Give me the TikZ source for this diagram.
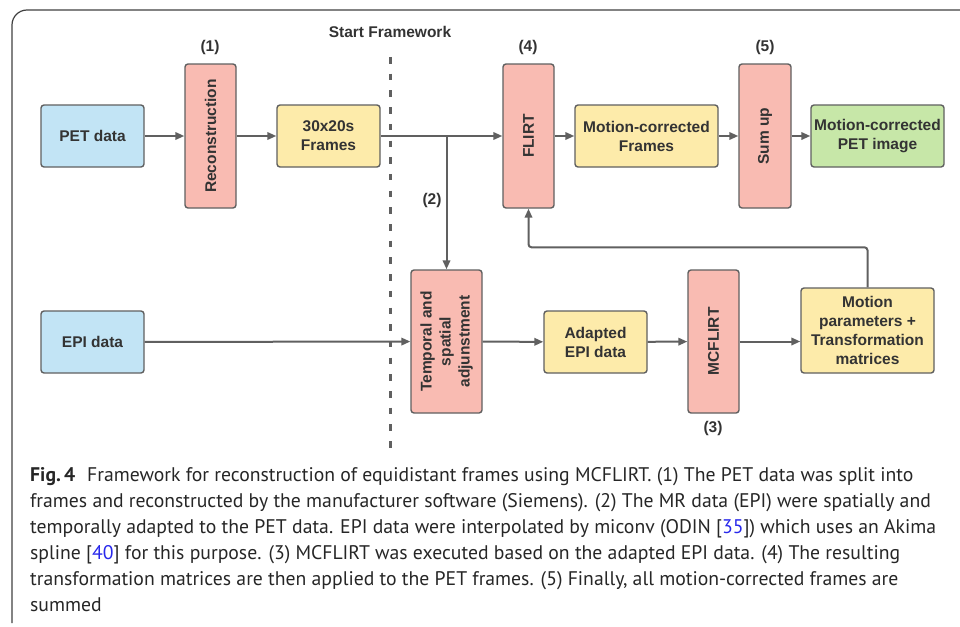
\documentclass[tikz,border=0pt]{standalone}
\usepackage{fontspec}
\setmainfont{PT Sans}
\setsansfont{Liberation Sans}
\usepackage{tikz}
\usetikzlibrary{arrows.meta}

\definecolor{inblue}{RGB}{194,228,245}
\definecolor{steppink}{RGB}{249,187,178}
\definecolor{datayellow}{RGB}{253,235,170}
\definecolor{outgreen}{RGB}{199,231,168}
\definecolor{linegray}{RGB}{96,96,96}
\definecolor{textgray}{RGB}{51,51,51}
\definecolor{citeblue}{RGB}{40,40,235}

\begin{document}
\begin{tikzpicture}[x=1pt,y=-1pt,
    box/.style={draw=linegray, line width=1.4pt, rounded corners=3pt, text=textgray,
        font=\sffamily\bfseries\fontsize{15.5}{19}\selectfont, align=center, inner sep=0pt},
    flat/.style={box, minimum height=62pt},
    tall/.style={box, fill=steppink, rotate=90, minimum width=144pt},
    num/.style={text=textgray, font=\sffamily\bfseries\fontsize{15.5}{19}\selectfont},
    arr/.style={draw=linegray, line width=2pt, -{Triangle[length=9pt,width=7.5pt]}}]
    \useasboundingbox (0,0) rectangle (960,626);
    \draw[line width=1.2pt, draw=black!75, rounded corners=15pt] (961,10) -- (12,10) -- (12,623);

    % PET branch
    \node[flat, fill=inblue, minimum width=103pt] (pet) at (92.5,136) {PET data};
    \node[tall, minimum height=51pt] (recon) at (210.5,136) {Reconstruction};
    \node[flat, fill=datayellow, minimum width=103pt] (frames) at (328.5,136) {30x20s\\Frames};
    \node[tall, minimum height=51pt] (flirt) at (528.5,136) {FLIRT};
    \node[flat, fill=datayellow, minimum width=143pt] (mcframes) at (646.5,136) {Motion-corrected\\Frames};
    \node[tall, minimum height=52pt] (sumup) at (765,136) {Sum up};
    \node[flat, fill=outgreen, minimum width=133pt] (petimg) at (877.5,136) {Motion-corrected\\PET image};

    % EPI branch
    \node[flat, fill=inblue, minimum width=103pt] (epi) at (92.5,342) {EPI data};
    \node[tall, minimum height=71pt, minimum width=143pt] (adjust) at (446.5,341.5) {Temporal and\\spatial\\adjunstment};
    \node[flat, fill=datayellow, minimum width=103pt] (adapted) at (595.5,342) {Adapted\\EPI data};
    \node[tall, minimum height=51pt, minimum width=143pt] (mcflirt) at (713.5,341.5) {MCFLIRT};
    \node[box, fill=datayellow, minimum width=133pt, minimum height=85pt] (params) at (867.5,330.5)
        {Motion\\parameters +\\Transformation\\matrices};

    \node[num] (n1) at (210,47) {(1)};
    \node[num] (n2) at (432,200) {(2)};
    \node[num] (n3) at (713,428) {(3)};
    \node[num] (n4) at (528,47) {(4)};
    \node[num] (n5) at (765,47) {(5)};
    \node[num] (start) at (390,32) {Start Framework};

    \coordinate (top) at (390,57);
    \coordinate (bottom) at (390,454);
    \draw[draw=linegray, line width=3pt, dash pattern=on 6.5pt off 10.2pt] (top) -- (bottom);

    % rotated boxes: east is the top side, west the bottom side
    \draw[arr] (pet) -- (recon);
    \draw[arr] (recon) -- (frames);
    \draw[arr] (frames) -- (flirt);
    \draw[arr] (adjust.east |- frames.east) -- (adjust.east);
    \draw[arr] (flirt) -- (mcframes);
    \draw[arr] (mcframes) -- (sumup);
    \draw[arr] (sumup) -- (petimg);
    \draw[arr] (epi) -- (adjust);
    \draw[arr] (adjust) -- (adapted);
    \draw[arr] (adapted) -- (mcflirt);
    \draw[arr] (mcflirt) -- (mcflirt -| params.west);
    \draw[arr, rounded corners=3pt] (params.north) -- ++(0,-40) -| (flirt.west);

    \node[anchor=north west, align=left, inner sep=0pt, text=black!85,
        font=\fontsize{19.7}{26}\selectfont] (caption) at (30,467)
        {\textbf{Fig.\,4}\hspace{0.6em}Framework for reconstruction of equidistant frames using MCFLIRT. (1) The PET data was split into\\
        frames and reconstructed by the manufacturer software (Siemens). (2) The MR data (EPI) were spatially and\\
        temporally adapted to the PET data. EPI data were interpolated by miconv (ODIN [\textcolor{citeblue}{35}]) which uses an Akima\\
        spline [\textcolor{citeblue}{40}] for this purpose. (3) MCFLIRT was executed based on the adapted EPI data. (4) The resulting\\
        transformation matrices are then applied to the PET frames. (5) Finally, all motion-corrected frames are\\
        summed};
\end{tikzpicture}
\end{document}
